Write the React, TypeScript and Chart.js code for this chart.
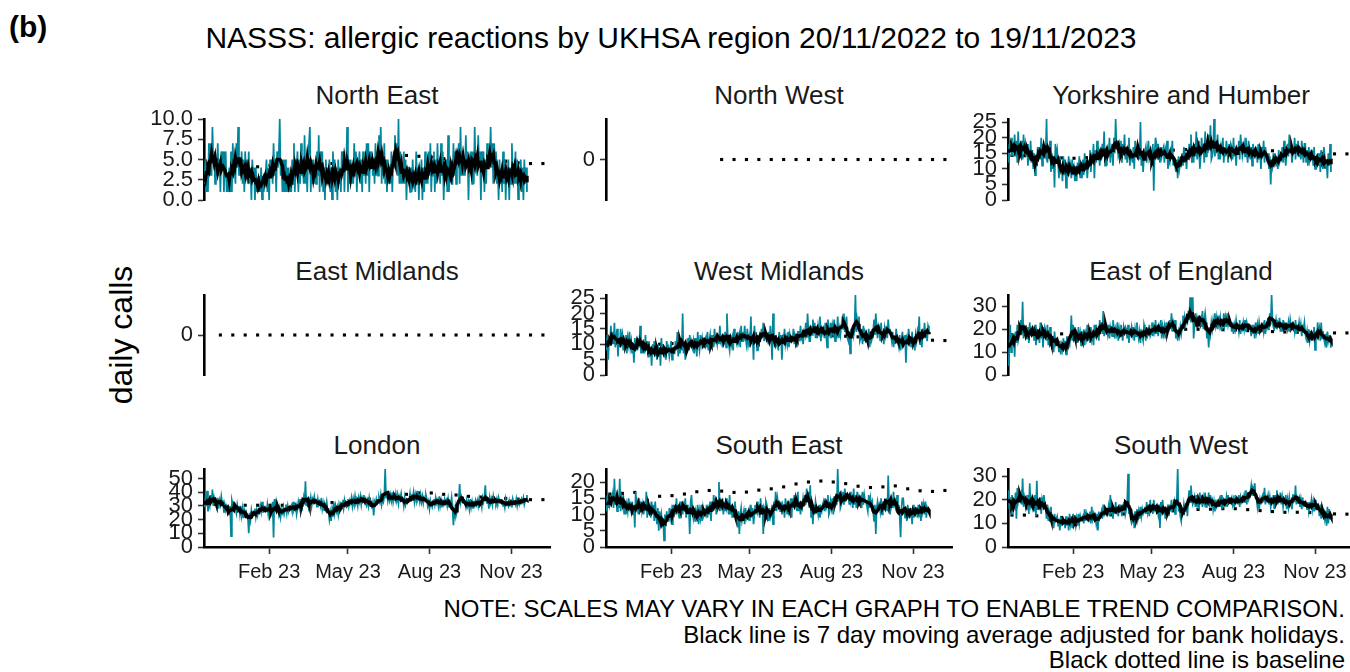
import React, { useEffect, useRef } from "react";
import { Chart, registerables } from "chart.js";

Chart.register(...registerables);

const FONT = '"Liberation Sans", Arial, sans-serif';
const TEAL = "#00859A";

// Days since 20/11/2022 (day 0) ... 19/11/2023 (day 364)
const xTickDays = [73, 162, 254, 346];
const xTickLabels = ["Feb 23", "May 23", "Aug 23", "Nov 23"];

const regionNames = [
  "North East", "North West", "Yorkshire and Humber",
  "East Midlands", "West Midlands", "East of England",
  "London", "South East", "South West",
];

// daily calls, one row per week
const northEast = [
  2,5,1,4,1,7,3, 7,3,9,5,6,2,4, 3,7,3,5,1,6,4, 6,1,5,6,1,3,1, 4,1,6,1,7,3,4,
  2,7,4,9,3,5,3, 6,2,5,1,6,3,5, 2,6,2,4,0,5,3, 4,0,4,1,2,1,3, 1,4,0,3,1,3,3,
  5,1,4,0,5,3,5, 2,7,3,5,1,6,4, 6,10,3,5,1,5,1, 5,1,4,1,4,1,2, 1,5,2,7,1,5,4,
  6,1,5,2,7,3,4, 2,8,2,5,1,5,5, 9,1,5,2,5,2,4, 2,6,3,8,1,6,3, 6,1,4,0,5,2,4,
  2,5,1,4,0,6,3, 5,1,4,0,5,2,4, 1,6,3,6,1,5,4, 9,1,5,2,5,2,4, 2,7,3,6,1,5,4,
  6,2,5,1,6,3,5, 2,7,3,7,1,6,4, 6,3,5,2,7,3,6, 3,8,4,9,2,6,3, 7,2,5,1,5,2,4,
  2,6,1,5,4,8,5, 7,3,10,2,6,2,4, 2,6,2,5,0,4,4, 4,1,4,1,5,2,2, 1,6,2,4,0,4,3,
  5,0,4,1,6,2,4, 2,6,3,7,1,5,3, 6,1,5,2,7,3,4, 2,7,3,6,0,4,3, 5,1,8,1,5,3,2,
  2,7,3,6,2,6,5, 7,2,9,3,6,3,5, 3,8,4,6,0,5,5, 6,2,6,2,9,4,4, 3,8,4,6,0,6,4,
  6,1,5,2,7,4,5, 4,9,4,7,2,7,4, 6,2,4,0,5,2,4, 1,6,2,5,0,4,3, 5,0,4,2,7,3,4,
  2,6,2,5,0,4,3, 5,1,4,0,5,2,4, 1,
];

const yorkshireHumber = [
  12,18,15,20,14,17,16, 21,14,19,12,22,15,16, 14,19,13,21,16,18,14, 18,11,16,13,19,12,16,
  10,15,8,14,11,17,13, 17,13,20,11,18,14,15, 14,26,12,17,15,19,9, 15,10,14,4,18,14,16,
  12,7,14,9,11,6,14, 8,13,4,12,10,14,9, 11,7,13,8,10,6,11, 6,12,9,14,7,11,7,
  13,8,15,10,12,7,12, 11,16,9,14,13,18,7, 16,12,19,13,15,11,15, 13,18,14,22,11,16,11,
  17,14,20,12,16,18,11, 20,15,26,17,19,14,15, 14,19,12,18,15,21,13, 17,12,16,20,11,15,14,
  12,17,10,19,14,16,13, 18,13,25,11,15,9,14, 14,17,12,16,19,13,14, 16,11,18,3,15,20,18,
  13,18,15,12,17,14,16, 17,12,16,14,19,10,13, 12,16,15,19,11,14,11, 9,13,7,14,10,12,12,
  15,11,17,12,14,10,15, 13,18,15,21,12,17,12, 18,14,22,13,16,19,10, 14,20,15,18,12,22,14,
  19,15,21,16,24,13,14, 16,26,14,19,17,21,13, 18,13,17,15,20,12,17, 14,19,16,12,18,15,18,
  17,13,20,14,16,11,17, 15,19,13,21,17,14,16, 18,14,20,15,12,19,17, 13,17,11,18,15,16,15,
  16,12,18,13,15,10,17, 14,19,12,17,15,13,15, 10,14,5,13,11,15,12, 15,11,14,10,16,12,13,
  13,17,12,19,14,11,15, 18,14,21,15,17,12,15, 15,20,13,18,16,19,14, 17,13,19,15,12,18,18,
  12,16,11,17,13,15,14, 15,11,17,10,14,12,15, 11,15,9,16,13,10,17, 14,10,13,7,15,11,18,
  9,
];

const westMidlands = [
  8,13,5,12,10,16,10, 14,10,17,9,12,15,6, 12,9,15,11,13,8,12, 9,13,7,12,10,14,9,
  11,7,10,4,12,8,11, 8,12,9,16,7,11,7, 10,7,13,8,11,6,11, 6,9,3,10,7,11,7,
  8,5,10,6,9,3,12, 7,10,6,9,5,11,8, 9,6,8,11,5,9,7, 7,11,8,14,6,10,7,
  12,8,20,7,11,5,7, 9,12,8,13,10,11,9, 11,7,12,9,6,14,10, 8,13,10,12,9,11,11,
  12,9,14,8,11,13,9, 10,13,9,15,11,12,10, 13,10,16,11,12,9,12, 11,14,9,20,12,10,8,
  13,10,12,8,15,11,11, 10,14,11,13,9,16,11, 14,11,16,12,10,15,10, 12,9,19,10,13,5,16,
  11,14,8,13,10,12,12, 15,12,17,11,14,13,12, 11,14,10,16,12,5,20, 12,9,13,10,11,8,14,
  10,13,5,12,11,15,10, 12,10,14,9,13,11,11, 11,15,10,13,12,9,14, 14,11,16,12,13,10,14,
  13,17,12,20,14,11,11, 16,13,18,14,17,12,15, 12,16,14,19,11,15,14, 15,12,17,13,9,18,14,
  13,17,12,16,14,18,11, 16,14,19,12,15,13,16, 18,15,20,14,17,19,12, 11,14,7,15,12,16,13,
  15,26,14,18,16,19,11, 12,15,10,16,11,14,13, 13,10,15,9,14,11,12, 14,18,13,20,15,12,16,
  15,11,17,12,14,10,15, 13,16,12,18,14,15,13, 11,14,9,13,10,15,12, 12,9,13,8,11,14,10,
  10,13,4,12,11,15,12, 12,9,14,10,11,8,13, 11,14,12,19,10,13,9, 15,12,17,13,14,11,16,
  15,
];

const eastOfEngland = [
  4,12,22,10,18,14,18, 8,19,14,22,15,17,17, 24,18,32,16,22,19,16, 16,21,14,23,17,20,19,
  20,15,22,13,19,17,20, 14,23,16,21,12,19,21, 19,15,22,13,18,21,15, 13,17,10,19,14,16,16,
  14,10,15,9,13,11,16, 11,15,9,17,12,14,13, 17,26,15,22,18,21,14, 19,14,21,15,18,13,19,
  15,20,13,18,16,22,15, 18,14,21,16,19,13,22, 16,22,17,20,15,24,19, 23,18,28,17,21,19,21,
  18,22,16,21,19,17,24, 21,16,20,18,23,15,20, 17,22,18,15,21,19,21, 20,16,22,14,19,18,21,
  18,21,15,20,17,23,19, 16,19,14,20,17,15,22, 20,15,21,17,18,22,17, 18,23,17,21,19,24,18,
  22,17,21,19,24,16,21, 18,21,16,23,19,20,20, 24,20,27,19,23,21,24, 16,20,15,19,17,21,18,
  21,26,20,25,22,24,23, 28,24,34,23,27,34,16, 22,27,21,25,23,26,24, 25,21,28,20,24,27,23,
  16,20,12,21,18,23,20, 24,21,27,22,25,20,26, 22,25,20,24,21,27,22, 25,21,27,22,24,23,23,
  19,23,18,22,20,24,21, 22,19,24,18,21,20,23, 20,24,19,23,21,22,22, 21,17,22,18,20,16,23,
  19,22,18,23,20,21,21, 22,19,24,18,21,23,20, 23,27,22,35,24,21,20, 21,24,20,23,22,25,19,
  23,19,24,20,22,21,22, 20,23,19,24,21,22,22, 22,19,24,18,21,20,23, 19,22,17,21,20,23,18,
  16,19,14,20,15,18,17, 18,15,21,11,19,16,23, 17,20,15,23,16,19,16, 14,18,12,19,15,17,17,
  12,
];

const london = [
  29,35,30,41,26,33,30, 38,32,42,30,36,33,34, 30,36,28,34,31,37,32, 33,25,31,27,30,28,29,
  26,30,8,34,31,32,32, 29,25,31,27,30,24,30, 23,28,21,27,24,26,26, 22,10,25,20,27,23,24,
  24,28,22,27,23,26,25, 30,26,33,25,29,27,26, 26,31,24,29,27,30,26, 33,7,35,30,34,31,30,
  24,28,22,27,25,29,24, 27,31,25,30,26,29,28, 30,26,33,27,29,31,24, 28,33,29,35,27,31,31,
  36,31,48,30,35,33,29, 31,36,30,35,33,37,33, 34,29,35,31,33,30,36, 28,32,27,31,29,33,27,
  26,20,25,19,27,22,33, 25,30,26,29,24,31,28, 33,29,32,28,34,30,31, 31,35,30,34,32,36,30,
  35,31,37,32,34,30,36, 33,37,31,36,34,38,33, 35,31,34,30,36,32,33, 28,32,23,33,31,35,32,
  32,36,33,38,31,35,33, 37,57,36,41,34,38,34, 38,34,40,33,37,35,39, 34,38,32,37,35,39,34,
  35,30,36,31,34,32,33, 34,39,33,37,36,40,33, 38,34,41,35,37,33,38, 33,37,32,36,34,38,35,
  30,33,28,34,31,29,32, 35,31,36,32,34,30,37, 30,34,29,33,31,35,32, 34,30,35,29,33,31,36,
  28,16,27,23,30,26,29, 34,46,33,37,35,34,33, 32,29,34,30,33,28,35, 29,33,28,32,30,34,31,
  34,30,35,31,33,29,36, 33,37,45,34,32,36,28, 36,32,35,31,37,33,34, 32,35,31,36,33,34,34,
  34,30,33,29,35,31,32, 30,34,31,33,29,35,32, 33,31,35,30,34,32,33, 32,35,33,36,31,34,34,
  38,
];

const southEast = [
  11,16,12,15,13,14,14, 16,12,21,13,15,11,14, 12,21,11,15,13,16,10, 14,10,13,11,15,12,13,
  11,14,10,13,6,17,13, 13,10,15,12,14,11,13, 10,14,11,17,9,13,10, 12,9,14,10,13,8,14,
  10,7,12,5,11,8,10, 6,9,2,10,7,11,8, 8,12,9,11,7,13,10, 13,10,15,11,12,9,14,
  11,14,10,13,12,15,9, 13,10,12,4,14,16,11, 9,12,8,11,10,13,7, 11,9,13,8,12,10,11,
  10,13,9,12,11,14,8, 14,11,16,12,15,10,13, 12,20,11,14,13,15,10, 14,11,15,12,13,10,16,
  10,13,9,12,11,14,11, 9,6,11,4,10,12,8, 8,11,7,12,9,10,9, 11,8,13,9,12,7,10,
  13,10,14,11,12,9,15, 10,13,4,12,11,14,13, 11,8,12,9,10,13,7, 14,12,17,11,15,13,13,
  11,14,10,13,12,9,15, 13,10,14,11,12,15,9, 15,12,16,13,14,11,17, 11,14,10,13,12,15,13,
  16,13,18,14,17,12,19, 9,12,7,13,10,14,12, 12,10,13,9,12,11,13, 14,11,15,12,13,16,10,
  11,14,12,15,10,13,13, 16,13,24,14,17,12,13, 14,17,13,18,15,16,16, 16,13,17,14,15,12,18,
  13,16,12,17,14,15,14, 15,12,17,13,16,14,14, 14,11,16,12,15,13,14, 11,8,13,4,12,14,12,
  13,11,15,10,14,12,13, 12,15,11,22,13,10,12, 15,12,17,13,14,11,16, 10,13,9,3,12,15,15,
  11,9,12,8,13,10,11, 10,12,7,13,9,11,12, 12,9,13,10,11,8,14, 11,13,10,14,9,12,11,
  12,
];

const southWest = [
  24,16,21,14,22,18,18, 17,23,12,25,19,21,20, 22,18,29,17,21,19,18, 16,22,14,27,18,20,16,
  20,15,22,13,28,16,16, 17,21,14,20,18,22,18, 16,12,18,11,15,13,17, 10,13,8,14,11,12,13,
  9,12,7,13,10,11,12, 11,8,13,9,12,7,14, 10,13,8,14,11,12,9, 12,9,14,10,13,11,12,
  13,10,16,11,14,12,12, 11,15,10,17,12,14,12, 13,10,14,7,15,12,13, 15,12,18,13,16,14,14,
  14,17,13,22,15,16,12, 17,14,19,15,16,13,18, 15,18,13,17,16,19,14, 16,19,31,14,17,12,10,
  11,14,8,15,12,16,12, 15,12,17,13,16,14,15, 17,14,19,15,18,13,20, 15,18,14,20,16,17,16,
  17,14,18,8,19,16,20, 14,17,12,16,15,18,13, 18,15,20,16,17,19,14, 16,20,33,15,18,13,11,
  17,14,18,15,16,19,13, 20,24,19,26,21,18,19, 21,17,22,18,20,16,23, 18,22,17,21,19,23,17,
  21,18,23,17,22,19,20, 16,19,15,20,17,18,18, 20,17,22,16,21,18,19, 18,21,17,22,19,20,20,
  21,18,20,17,22,19,20, 18,22,17,21,19,20,20, 22,19,24,18,23,20,21, 23,26,22,25,24,27,21,
  20,17,21,16,20,18,21, 22,19,25,18,21,20,22, 18,21,17,20,19,22,16, 22,19,24,18,21,20,23,
  18,21,17,20,19,22,16, 20,17,21,18,19,16,22, 22,19,26,18,21,20,21, 17,20,16,21,18,19,19,
  18,16,19,15,18,17,20, 16,19,15,20,17,18,18, 17,13,18,12,16,14,15, 12,15,9,17,10,16,12,
  14,
];

// baseline (dotted), sampled along the year
const baselineDays = [4,18,32,46,60,74,88,102,116,130,144,158,172,186,200,214,228,242,256,270,284,298,312,326,340,354,368,382];
const baselineNE = [4.4,4.4,4.4,4.3,4.1,4.3,4.5,4.6,4.6,4.6,4.5,4.5,4.6,4.7,5.0,5.3,5.5,5.4,5.3,5.1,5.0,5.0,5.0,4.9,4.8,4.6,4.5,4.5];
const baselineNW = [null,null,null,null,null,null,null,null,null,0,0,0,0,0,0,0,0,0,0,0,0,0,0,0,0,0,0,0];
const baselineYH = [14.3,14.2,14,13.8,13.5,13.4,13.6,14,14.5,15,15.3,15.5,15.8,16,16.2,16.5,16.8,16.5,16,16,16,15.8,15.8,15.5,15.2,15,14.8,14.8];
const baselineEM = [null,0,0,0,0,0,0,0,0,0,0,0,0,0,0,0,0,0,0,0,0,0,0,0,0,0,0,0];
const baselineWM = [10,10,10,10,10,10.2,10.5,10.8,11,11.3,11.5,11.8,12,12.2,12.5,12.8,13,13,12.8,12.6,12.4,12.2,12,11.8,11.6,11.4,11.3,11.2];
const baselineEoE = [17.6,17.6,17.8,18,18,18.2,18.5,18.8,19,19.2,19.4,19.6,19.7,19.8,20,20,20,19.8,19.6,19.4,19.2,19,18.8,18.7,18.6,18.5,18.4,18.4];
const baselineLondon = [31,31,30.5,30.5,30.5,30.5,30.5,31,31.5,32,32.5,33,34,35,36.5,37.5,38.5,39.5,39.5,38.5,38,37,36.5,36,35.5,35,34.6,34.6];
const baselineSE = [16.3,16.5,16.8,14.4,15.6,15.8,16.3,17,17.4,17.2,16.8,16.9,17.5,17.9,18.5,19.4,20,20.3,20,19.5,18.7,18.3,18.5,18.8,17.9,17.3,17.1,17.4];
const baselineSW = [13.5,13.5,13.2,12.5,12.5,12.8,13,13.3,13.6,14,14.3,14.6,15,15.3,15.6,15.9,16,16.2,16.2,15.8,15.4,15,14.7,14.7,14.6,14.3,14,13.9];

const dailySeries: (number[] | null)[] = [northEast, null, yorkshireHumber, null, westMidlands, eastOfEngland, london, southEast, southWest];
const baselineSeries = [baselineNE, baselineNW, baselineYH, baselineEM, baselineWM, baselineEoE, baselineLondon, baselineSE, baselineSW];
const yStepSizes = [2.5, 1, 5, 1, 5, 10, 10, 5, 10];

// layout
const colAxisX = [204, 606, 1008];
const rowPlotTop = [119, 295, 469];
const rowPlotH = [81, 80, 78];
const PLOT_W = 346;
const Y_AXIS_W = 80;
const PAD_TOP = 22;
const PAD_RIGHT = 6;

function movingAverage(v: number[]): number[] {
  const out: number[] = [];
  for (let i = 0; i < v.length; i++) {
    let s = 0, n = 0;
    for (let j = i - 3; j <= i + 3; j++) {
      if (j >= 0 && j < v.length) { s += v[j]; n++; }
    }
    out.push(s / n);
  }
  return out;
}

function Panel({ idx }: { idx: number }) {
  const ref = useRef<HTMLCanvasElement>(null);
  const row = Math.floor(idx / 3);
  const col = idx % 3;
  const bottom = row === 2;
  const padBottom = bottom ? 0 : 22;
  const xAxisH = bottom ? 46 : 0;
  const W = Y_AXIS_W + PLOT_W + PAD_RIGHT;
  const H = PAD_TOP + rowPlotH[row] + padBottom + xAxisH;
  const left = colAxisX[col] - Y_AXIS_W;
  const top = rowPlotTop[row] - PAD_TOP;

  useEffect(() => {
    const daily = dailySeries[idx];
    const base = baselineSeries[idx];
    const datasets: any[] = [];
    if (daily) {
      datasets.push({
        data: movingAverage(daily).map((y, i) => ({ x: i, y })),
        borderColor: "#000", borderWidth: 3.5, pointRadius: 0, tension: 0,
      });
      datasets.push({
        data: daily.map((y, i) => ({ x: i, y })),
        borderColor: TEAL, borderWidth: 1.7, pointRadius: 0, tension: 0,
      });
    }
    datasets.push({
      data: baselineDays.map((d, k) => ({ x: d, y: base[k] })),
      showLine: false, pointStyle: "rect", pointRadius: 2.2,
      pointBackgroundColor: "#000", pointBorderWidth: 0, borderColor: "#000",
    });
    const yMax = daily ? Math.max(...daily) : 1;
    const yMin = daily ? 0 : -1;
    const chart = new Chart(ref.current as HTMLCanvasElement, {
      type: "line",
      data: { datasets },
      options: {
        animation: false,
        responsive: false,
        maintainAspectRatio: false,
        devicePixelRatio: 1,
        events: [],
        layout: { padding: { top: PAD_TOP, right: PAD_RIGHT, bottom: padBottom, left: 0 } },
        plugins: { legend: { display: false }, tooltip: { enabled: false }, title: { display: false } },
        scales: {
          x: {
            type: "linear",
            min: -0.5,
            max: 390,
            display: bottom,
            afterFit: (s: any) => { s.height = xAxisH; },
            afterBuildTicks: (s: any) => { s.ticks = xTickDays.map((v) => ({ value: v })); },
            ticks: {
              autoSkip: false, maxRotation: 0, minRotation: 0, padding: 6,
              color: "#1a1a1a", font: { family: FONT, size: 20 },
              callback: (_v: any, i: number) => xTickLabels[i],
            },
            grid: { display: true, drawOnChartArea: false, drawTicks: true, tickLength: 7, tickColor: "#333", tickWidth: 1.6 },
            border: { display: true, color: "#000", width: 2.6 },
          },
          y: {
            type: "linear",
            min: yMin,
            max: yMax,
            afterFit: (s: any) => { s.width = Y_AXIS_W; },
            afterBuildTicks: (s: any) => { if (!daily) s.ticks = [{ value: 0 }]; },
            ticks: {
              stepSize: yStepSizes[idx], includeBounds: false, autoSkip: false, padding: 5,
              color: "#1a1a1a", font: { family: FONT, size: 22 },
              callback: (v: any) => (idx === 0 ? Number(v).toFixed(1) : String(v)),
            },
            grid: { display: true, drawOnChartArea: false, drawTicks: true, tickLength: 6, tickColor: "#333", tickWidth: 1.6 },
            border: { display: true, color: "#000", width: 2.6 },
          },
        },
      } as any,
    });
    return () => chart.destroy();
  }, [idx]);

  return (
    <>
      <div
        style={{
          position: "absolute", left: colAxisX[col], width: PLOT_W, top: rowPlotTop[row] - 37,
          textAlign: "center", fontFamily: FONT, fontSize: 26, lineHeight: "26px", color: "#1a1a1a", whiteSpace: "nowrap",
        }}
      >
        {regionNames[idx]}
      </div>
      <canvas
        ref={ref}
        width={W}
        height={H}
        style={{ position: "absolute", left, top, width: W, height: H }}
      />
    </>
  );
}

export default function App() {
  return (
    <div style={{ position: "absolute", left: 0, top: 0, width: 1350, height: 672, overflow: "hidden", background: "#fff" }}>
      <div style={{ position: "absolute", left: 9, top: 12, fontFamily: FONT, fontWeight: "bold", fontSize: 30, lineHeight: "30px", color: "#000" }}>
        (b)
      </div>
      <div style={{ position: "absolute", left: 0, width: 1342, top: 23, textAlign: "center", fontFamily: FONT, fontSize: 30, lineHeight: "30px", color: "#000", whiteSpace: "nowrap" }}>
        NASSS: allergic reactions by UKHSA region 20/11/2022 to 19/11/2023
      </div>
      <div
        style={{
          position: "absolute", left: 121 - 100, top: 335 - 18, width: 200, height: 36,
          transform: "rotate(-90deg)", textAlign: "center", fontFamily: FONT, fontSize: 32, lineHeight: "36px", color: "#000",
        }}
      >
        daily calls
      </div>
      {regionNames.map((_, i) => (
        <Panel key={i} idx={i} />
      ))}
      <div
        style={{
          position: "absolute", right: 5, top: 596, textAlign: "right", fontFamily: FONT, fontSize: 24, lineHeight: "25.5px", color: "#000", whiteSpace: "nowrap",
        }}
      >
        <div>NOTE: SCALES MAY VARY IN EACH GRAPH TO ENABLE TREND COMPARISON.</div>
        <div>Black line is 7 day moving average adjusted for bank holidays.</div>
        <div>Black dotted line is baseline</div>
      </div>
    </div>
  );
}
